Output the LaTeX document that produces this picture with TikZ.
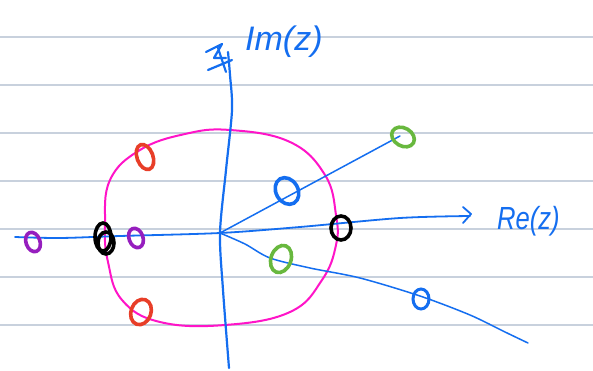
\documentclass[tikz,border=0pt]{standalone}
\usepackage{fontspec}
\setmainfont{Liberation Sans}
\begin{document}
\begin{tikzpicture}[x=1pt,y=-1pt,
  rule/.style={draw={rgb,255:red,200;green,209;blue,221},line width=1.6pt},
  axis/.style={draw={rgb,255:red,20;green,110;blue,240},line width=2.2pt,line cap=round,line join=round},
  ray/.style={draw={rgb,255:red,20;green,110;blue,240},line width=1.5pt,line cap=round,line join=round},
  blob/.style={line width=3.6pt},
  lbl/.style={text={rgb,255:red,20;green,110;blue,240},inner sep=0pt}]
\definecolor{pblue}{RGB}{20,110,240}
\definecolor{pmag}{RGB}{255,20,200}
\definecolor{pred}{RGB}{232,62,40}
\definecolor{pgreen}{RGB}{104,184,62}
\definecolor{ppurple}{RGB}{150,30,190}
\useasboundingbox (0,0) rectangle (593,371);
\fill[white] (0,0) rectangle (593,371);
% ruled lines
\foreach \yy in {37,85,133,181,229,277,325} \draw[rule] (0,\yy) -- (593,\yy);
% origin
\coordinate (O) at (220,233);
% magenta circle
\draw[pmag,line width=2pt] plot[smooth cycle,tension=0.7] coordinates
 {(230,130) (290,142) (325,175) (336,215) (336,245) (322,280) (290,312) (225,325) (160,322) (122,300) (108,262) (105,225) (110,180) (140,150) (185,134)};
% horizontal axis
\draw[axis,line width=1.8pt] plot[smooth] coordinates {(15,237) (60,238) (120,236) (O) (300,227) (400,218) (470,216)};
\draw[axis,line width=1.8pt] (463,207) -- (471,214) -- (463,223);
% vertical axis
\draw[axis] plot[smooth] coordinates {(229,368) (223,290) (220,233) (226,170) (232,110) (230,75) (228,52)};
% arrow scribble at top
\draw[axis] (206,52) -- (222,44) -- (214,58) -- (226,58) (208,70) -- (232,60) (218,48) -- (226,72);
% rays
\draw[ray] (O) -- (400,136);
\draw[ray] plot[smooth] coordinates {(O) (245,244) (270,258) (310,268) (360,278) (420,296) (470,315) (505,332) (528,343)};
% labels
\node[lbl,anchor=west,font=\fontsize{34}{36}\selectfont\itshape] (im) at (245,42) {Im(z)};
\node[lbl,anchor=west,font=\fontsize{32}{34}\selectfont\itshape,xscale=0.8] (re) at (497,221) {Re(z)};
% marks
\draw[blob,ppurple] (33,242) ellipse[x radius=7,y radius=10,rotate=20];
\draw[blob,black] (103,237) ellipse[x radius=8,y radius=14];
\draw[blob,black] (106,243) ellipse[x radius=8,y radius=11];
\draw[blob,ppurple] (136,238) ellipse[x radius=7,y radius=10,rotate=20];
\draw[blob,pred] (145,157) ellipse[x radius=8,y radius=13,rotate=20];
\draw[blob,pred] (141,312) ellipse[x radius=10,y radius=13,rotate=-20];
\draw[blob,pblue] (287,191) ellipse[x radius=11,y radius=14,rotate=30];
\draw[blob,pgreen] (403,137) ellipse[x radius=12,y radius=9,rotate=-30];
\draw[blob,black] (341,228) ellipse[x radius=10,y radius=12];
\draw[blob,pgreen] (281,259) ellipse[x radius=10,y radius=14,rotate=-20];
\draw[blob,pblue,line width=3pt] (421,299) ellipse[x radius=8,y radius=10];
\end{tikzpicture}
\end{document}
